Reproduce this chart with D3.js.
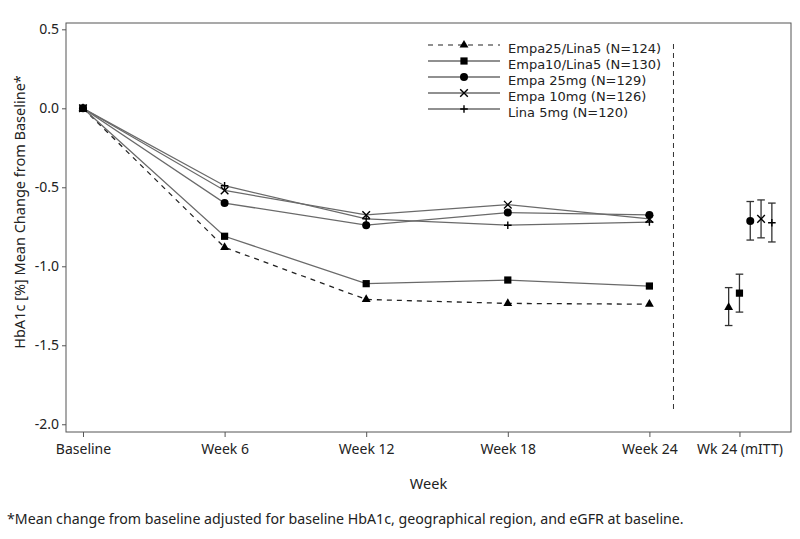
<!DOCTYPE html>
<html>
<head>
<meta charset="utf-8">
<script src="https://cdn.jsdelivr.net/npm/d3@7"></script>
<style>
  html, body { margin: 0; padding: 0; background: #fff; }
  svg { display: block; }
  text { font-family: "Noto Sans", "Open Sans", sans-serif; fill: #222; }
</style>
</head>
<body>
<svg id="chart" width="800" height="539"></svg>
<script>
// ---- data ----
const categories = ["Baseline", "Week 6", "Week 12", "Week 18", "Week 24"];
const mittLabel = "Wk 24 (mITT)";
const seriesNames = ["Empa25/Lina5 (N=124)", "Empa10/Lina5 (N=130)", "Empa 25mg (N=129)", "Empa 10mg (N=126)", "Lina 5mg (N=120)"];
const empa25lina5 = [0, -0.88, -1.21, -1.235, -1.24];
const empa10lina5 = [0, -0.81, -1.11, -1.087, -1.125];
const empa25 = [0, -0.60, -0.74, -0.66, -0.675];
const empa10 = [0, -0.52, -0.675, -0.61, -0.70];
const lina5 = [0, -0.49, -0.70, -0.74, -0.72];
const mittMean = [-1.26, -1.17, -0.713, -0.70, -0.724];
const mittLower = [-1.375, -1.29, -0.834, -0.82, -0.846];
const mittUpper = [-1.135, -1.05, -0.59, -0.58, -0.60];
const yTicks = [0.5, 0.0, -0.5, -1.0, -1.5, -2.0];
const yTitle = "HbA1c [%] Mean Change from Baseline*";
const xTitle = "Week";
const footnote = "*Mean change from baseline adjusted for baseline HbA1c, geographical region, and eGFR at baseline.";

const seriesValues = [empa25lina5, empa10lina5, empa25, empa10, lina5];
const markerTypes = ["triangle", "square", "circle", "x", "plus"];
const dashed = [true, false, false, false, false];

// ---- layout ----
const L = 66, R = 791, T = 23, B = 432;
const mittPos = 4.636, dividerPos = 4.17;
const svg = d3.select("#chart");
const x = d3.scaleLinear().domain([-0.12, 5.0]).range([L, R]);
const y = d3.scaleLinear().domain([-2.049, 0.54]).range([B, T]);

function marker(sel, type, cx, cy) {
  const g = sel.append("g").attr("transform", `translate(${cx},${cy})`);
  if (type === "triangle") {
    g.append("path").attr("d", d3.symbol().type(d3.symbolTriangle).size(34)()).attr("fill", "#000");
  } else if (type === "square") {
    g.append("rect").attr("x", -3.6).attr("y", -3.6).attr("width", 7.2).attr("height", 7.2).attr("fill", "#000");
  } else if (type === "circle") {
    g.append("circle").attr("r", 4).attr("fill", "#000");
  } else if (type === "x") {
    g.append("path").attr("d", "M-3.8,-3.8L3.8,3.8M-3.8,3.8L3.8,-3.8").attr("stroke", "#000").attr("stroke-width", 1.4);
  } else if (type === "plus") {
    g.append("path").attr("d", "M-3.8,0L3.8,0M0,-3.8L0,3.8").attr("stroke", "#000").attr("stroke-width", 1.4);
  }
}

// plot frame
svg.append("rect").attr("x", L).attr("y", T).attr("width", R - L).attr("height", B - T)
  .attr("fill", "none").attr("stroke", "#555").attr("stroke-width", 1);

// y axis
const yAxis = d3.axisLeft(y).tickValues(yTicks).tickSize(4).tickPadding(3)
  .tickFormat(d => d3.format(".1f")(d).replace("\u2212", "-"));
const gy = svg.append("g").attr("transform", `translate(${L},0)`).call(yAxis);
gy.select(".domain").remove();
gy.selectAll("line").attr("stroke", "#555");
gy.selectAll("text").attr("font-size", 14).attr("fill", "#222")
  .style("font-family", '"Noto Sans", sans-serif');

// x axis
const xTickVals = categories.map((c, i) => i).concat([mittPos]);
const xTickLabels = categories.concat([mittLabel]);
const xAxis = d3.axisBottom(x).tickValues(xTickVals).tickSize(5).tickPadding(7)
  .tickFormat((d, i) => xTickLabels[i]);
const gx = svg.append("g").attr("transform", `translate(0,${B})`).call(xAxis);
gx.select(".domain").remove();
gx.selectAll("line").attr("stroke", "#555");
gx.selectAll("text").attr("font-size", 14).attr("fill", "#222")
  .style("font-family", '"Noto Sans", sans-serif');

// titles
svg.append("text").attr("x", (L + R) / 2).attr("y", 489).attr("text-anchor", "middle")
  .attr("font-size", 14.5).text(xTitle);
svg.append("text").attr("transform", `translate(25,212) rotate(-90)`)
  .attr("text-anchor", "middle").attr("font-size", 14.5).text(yTitle);
svg.append("text").attr("x", 7).attr("y", 524).attr("font-size", 14.2).text(footnote);

// divider
svg.append("line").attr("x1", x(dividerPos)).attr("x2", x(dividerPos))
  .attr("y1", 44).attr("y2", 412).attr("stroke", "#333").attr("stroke-dasharray", "5,4");

// lines
const line = d3.line().x((d, i) => x(i)).y(d => y(d));
seriesValues.forEach((vals, s) => {
  svg.append("path").datum(vals).attr("d", line).attr("fill", "none")
    .attr("stroke", dashed[s] ? "#222" : "#6a6a6a").attr("stroke-width", 1.3)
    .attr("stroke-dasharray", dashed[s] ? "5,5" : null);
});
seriesValues.forEach((vals, s) => {
  vals.forEach((v, i) => marker(svg, markerTypes[s], x(i), y(v)));
});

// mITT points with CIs
const dodge = 10.8;
mittMean.forEach((m, s) => {
  const cx = x(mittPos) + (s - 1) * dodge;
  const g = svg.append("g").attr("stroke", "#333").attr("stroke-width", 1.3);
  g.append("line").attr("x1", cx).attr("x2", cx).attr("y1", y(mittUpper[s])).attr("y2", y(mittLower[s]));
  g.append("line").attr("x1", cx - 3.8).attr("x2", cx + 3.8).attr("y1", y(mittUpper[s])).attr("y2", y(mittUpper[s]));
  g.append("line").attr("x1", cx - 3.8).attr("x2", cx + 3.8).attr("y1", y(mittLower[s])).attr("y2", y(mittLower[s]));
  marker(svg, markerTypes[s], cx, y(m));
});

// legend
const legX1 = 428, legX2 = 500, legM = 464, legTextX = 508, legY0 = 45, legDy = 16;
seriesNames.forEach((name, s) => {
  const yy = legY0 + s * legDy;
  svg.append("line").attr("x1", legX1).attr("x2", legX2).attr("y1", yy).attr("y2", yy)
    .attr("stroke", "#222").attr("stroke-width", 1.2)
    .attr("stroke-dasharray", dashed[s] ? "5,5" : null);
  marker(svg, markerTypes[s], legM, yy);
  svg.append("text").attr("x", legTextX).attr("y", yy + 8).attr("font-size", 13)
    .style("font-family", '"DejaVu Sans", sans-serif').text(name);
});
</script>
</body>
</html>
